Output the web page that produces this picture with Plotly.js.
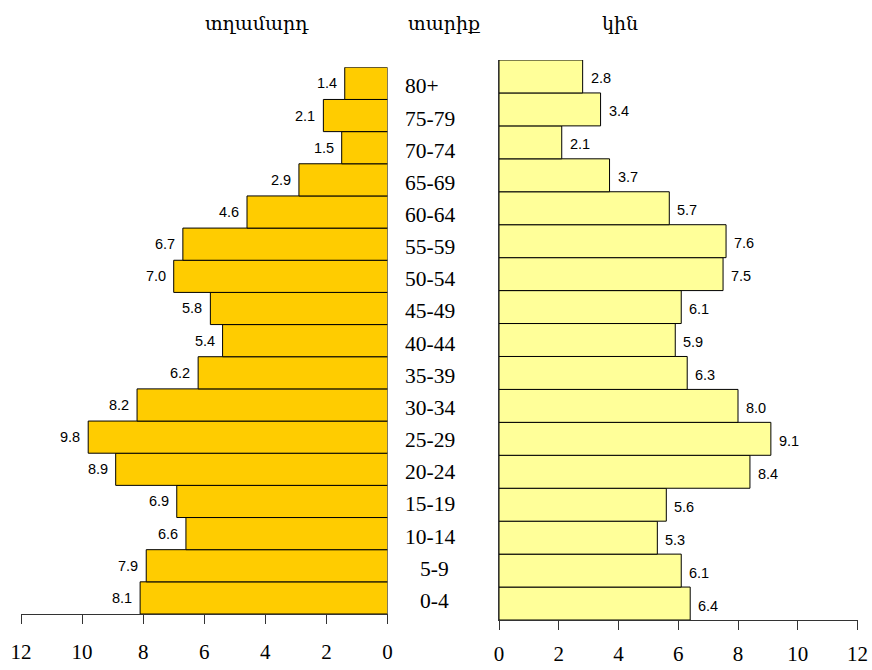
<!DOCTYPE html>
<html>
<head>
<meta charset="utf-8">
<script src="https://cdn.plot.ly/plotly-3.0.1.min.js"></script>
<style>html,body{margin:0;padding:0;background:#fff;}#chart{width:872px;height:670px;}</style>
</head>
<body>
<div id="chart"></div>
<script>
// Data (bottom to top)
const ageGroups = ["0-4","5-9","10-14","15-19","20-24","25-29","30-34","35-39","40-44","45-49","50-54","55-59","60-64","65-69","70-74","75-79","80+"];
const maleValues = [8.1,7.9,6.6,6.9,8.9,9.8,8.2,6.2,5.4,5.8,7.0,6.7,4.6,2.9,1.5,2.1,1.4];
const femaleValues = [6.4,6.1,5.3,5.6,8.4,9.1,8.0,6.3,5.9,6.1,7.5,7.6,5.7,3.7,2.1,3.4,2.8];
const xTickVals = [0,2,4,6,8,10,12];
const titleMale = "տղամարդ";
const titleAge = "տարիք";
const titleFemale = "կին";

const W = 872, H = 670;
const px = x => x / W;
const py = y => (H - y) / H;

const serif = "Liberation Serif, Times New Roman, serif";
const sans = "Liberation Sans, Arial, sans-serif";
const armenian = "DejaVu Serif, serif";

const traces = [
  {
    type: "bar", orientation: "h",
    x: maleValues, y: ageGroups,
    xaxis: "x", yaxis: "y",
    marker: {color: "#FFCC00", line: {color: "#000", width: 1}},
    hoverinfo: "none"
  },
  {
    type: "bar", orientation: "h",
    x: femaleValues, y: ageGroups,
    xaxis: "x2", yaxis: "y2",
    marker: {color: "#FFFF99", line: {color: "#000", width: 1}},
    hoverinfo: "none"
  }
];

const annotations = [];
maleValues.forEach((v, i) => {
  annotations.push({
    x: v, y: ageGroups[i], xref: "x", yref: "y",
    text: v.toFixed(1), showarrow: false, xanchor: "right", xshift: -6,
    font: {family: sans, size: 14.5, color: "#000"}
  });
});
femaleValues.forEach((v, i) => {
  annotations.push({
    x: v, y: ageGroups[i], xref: "x2", yref: "y2",
    text: v.toFixed(1), showarrow: false, xanchor: "left", xshift: 6, yshift: -2,
    font: {family: sans, size: 14.5, color: "#000"}
  });
});
ageGroups.forEach((a, i) => {
  const short = a.length === 3 && a.indexOf("-") >= 0;
  annotations.push({
    x: px(403), y: a, xref: "paper", yref: "y",
    text: a, showarrow: false, xanchor: "left", xshift: short ? 15 : 0, yshift: -3,
    font: {family: serif, size: 21.5, color: "#000"}
  });
});
[[titleMale, 257], [titleAge, 444], [titleFemale, 620]].forEach(([t, x]) => {
  annotations.push({
    x: px(x), y: py(23), xref: "paper", yref: "paper",
    text: t, showarrow: false, xanchor: "center", yanchor: "middle",
    font: {family: armenian, size: 19, color: "#000"}
  });
});

const xCommon = {
  tickvals: xTickVals, ticktext: xTickVals.map(String),
  ticks: "outside", ticklen: 9, tickcolor: "#333", tickwidth: 1,
  showline: true, linecolor: "#333", linewidth: 1,
  showgrid: false, zeroline: false,
  tickfont: {family: serif, size: 21, color: "#000"},
  ticklabelstandoff: 10, fixedrange: true
};

const layout = {
  width: W, height: H,
  margin: {l: 0, r: 0, t: 0, b: 0},
  paper_bgcolor: "#fff", plot_bgcolor: "rgba(0,0,0,0)",
  showlegend: false, bargap: 0,
  xaxis: Object.assign({}, xCommon, {domain: [px(21), px(387.5)], range: [12, 0], anchor: "y"}),
  yaxis: {domain: [py(614), py(67.3)], range: [-0.5, 16.5], type: "category",
          showticklabels: false, ticks: "", showline: false, showgrid: false, zeroline: false,
          anchor: "x", categoryarray: ageGroups, categoryorder: "array"},
  xaxis2: Object.assign({}, xCommon, {domain: [px(499), px(857.5)], range: [0, 12], anchor: "y2", ticklabelstandoff: 6}),
  yaxis2: {domain: [py(620), py(60)], range: [-0.5, 16.5], type: "category",
           showticklabels: false, ticks: "", showline: true, linecolor: "#333", linewidth: 1,
           showgrid: false, zeroline: false, anchor: "x2", categoryarray: ageGroups, categoryorder: "array"},
  annotations: annotations
};

Plotly.newPlot("chart", traces, layout, {displayModeBar: false, staticPlot: true});
</script>
</body>
</html>
